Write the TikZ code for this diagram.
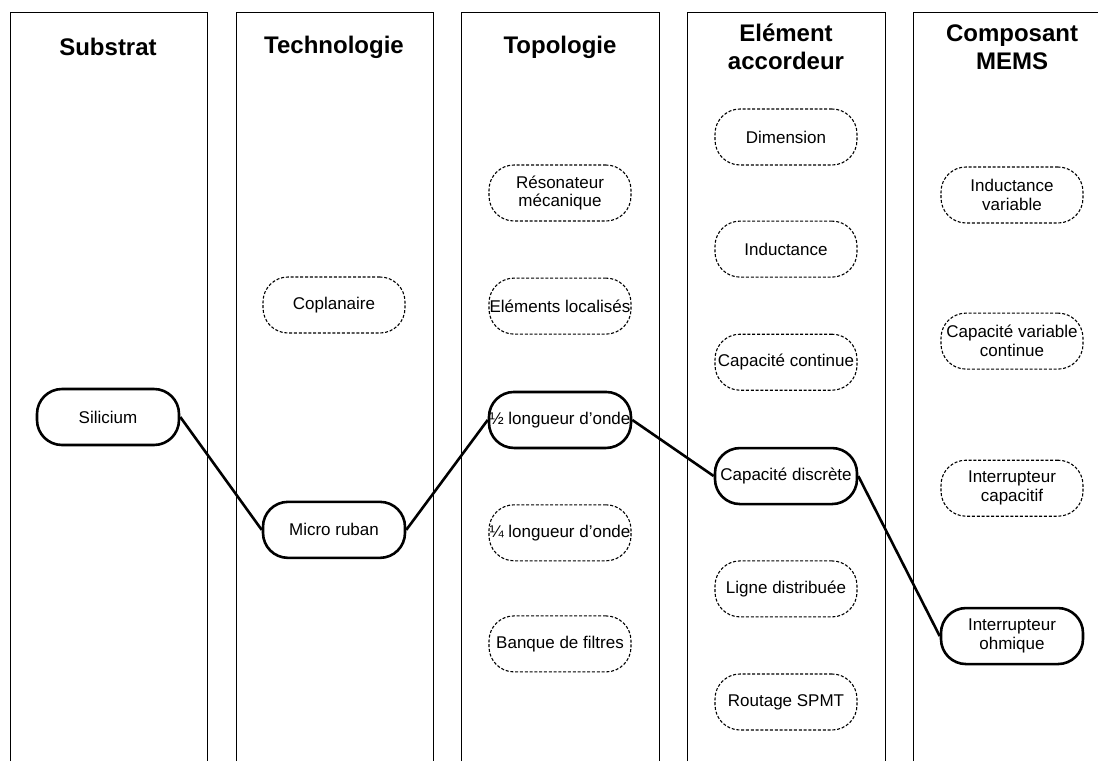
\documentclass[tikz,border=0pt]{standalone}
\usepackage{fontspec}
\setmainfont{Liberation Sans}
\setsansfont{Liberation Sans}
\usetikzlibrary{positioning}
\newcommand\optfont{\sffamily\fontsize{17}{19}\selectfont}
\newcommand\headfont{\sffamily\bfseries\fontsize{24}{28.5}\selectfont}

\begin{document}
\begin{tikzpicture}[x=1pt, y=-1pt,
    column/.style={line width=0.8pt},
    heading/.style={font=\headfont, align=center},
    choice/.style={
        rectangle, rounded corners=25pt,
        minimum width=142pt, minimum height=56pt,
        inner sep=0pt, align=center, font=\optfont
    },
    picked/.style={choice, draw, line width=2.6pt},
    option/.style={choice, draw, dash pattern=on 3pt off 1.8pt, line width=1.1pt},
    link/.style={line width=2.6pt}
]
  \useasboundingbox (0,0) rectangle (1098,761);
  \clip (0,0) rectangle (1098,761);

  % Columns
  \draw[column] (10,761) |- (207,12) -- (207,761);
  \draw[column] (236,761) |- (433,12) -- (433,761);
  \draw[column] (461,761) |- (659,12) -- (659,761);
  \draw[column] (687,761) |- (885,12) -- (885,761);
  \draw[column] (913,761) |- (1112,12) -- (1112,761);

  % Headings
  \node[heading] (substrat) at (108,47) {Substrat};
  \node[heading] (techno) at (334,47) {Technologie};
  \node[heading] (topo) at (560,47) {Topologie};
  \node[heading] (accord) at (786,47) {Elément\\accordeur};
  \node[heading] (mems) at (1012,47) {Composant\\MEMS};

  % Substrat
  \node[picked] (silicium) at (108,417) {Silicium};

  % Technologie
  \node[option] (copla) at (334,305) {Coplanaire};
  \node[picked, below=167pt of copla] (micro) {Micro ruban};

  % Topologie
  \node[option] (reso) at (560,193) {Résonateur\\mécanique};
  \node[option, below=56pt of reso] (localises) {Eléments localisés};
  \node[picked, below=56pt of localises] (demi) {½ longueur d'onde};
  \node[option, below=55pt of demi] (quart) {¼ longueur d'onde};
  \node[option, below=54pt of quart] (banque) {Banque de filtres};

  % Element accordeur
  \node[option] (dimension) at (786,137) {Dimension};
  \node[option, below=55pt of dimension] (induct) {Inductance};
  \node[option, below=56pt of induct] (capcont) {Capacité continue};
  \node[picked, below=56pt of capcont] (capdisc) {Capacité discrète};
  \node[option, below=55pt of capdisc] (ligne) {Ligne distribuée};
  \node[option, below=56pt of ligne] (routage) {Routage SPMT};

  % Composant MEMS
  \node[option] (indvar) at (1012,195) {Inductance\\variable};
  \node[option, below=89pt of indvar] (capvar) {Capacité variable\\continue};
  \node[option, below=90pt of capvar] (intcap) {Interrupteur\\capacitif};
  \node[picked, below=90pt of intcap] (intohm) {Interrupteur\\ohmique};

  % Chosen path
  \draw[link] (silicium.east) -- (micro.west);
  \draw[link] (micro.east) -- (demi.west);
  \draw[link] (demi.east) -- (capdisc.west);
  \draw[link] (capdisc.east) -- (intohm.west);

\end{tikzpicture}
\end{document}
